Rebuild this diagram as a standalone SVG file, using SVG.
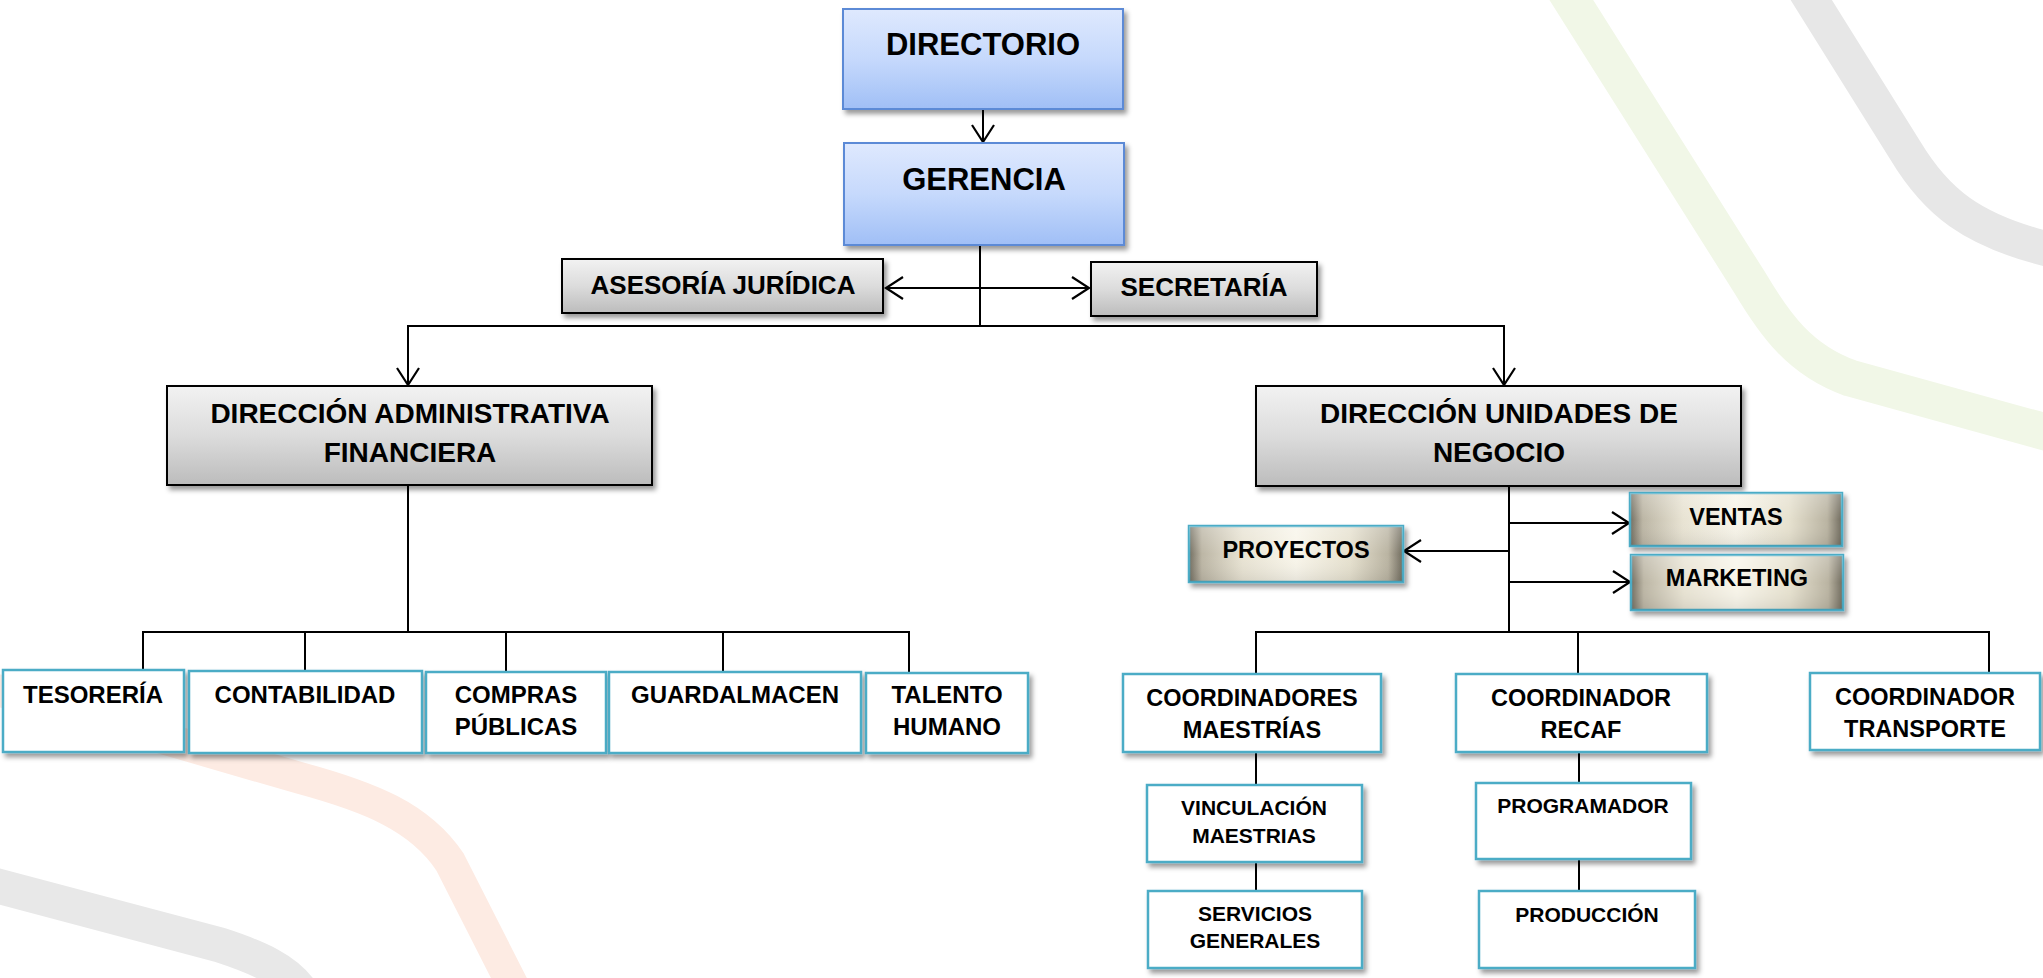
<svg xmlns="http://www.w3.org/2000/svg" width="2043" height="978" viewBox="0 0 2043 978">
<defs>
<linearGradient id="gBlue" x1="0" y1="0" x2="0" y2="1">
<stop offset="0" stop-color="#dfe9fe"/><stop offset="0.5" stop-color="#c6d9fc"/><stop offset="1" stop-color="#a0bff6"/>
</linearGradient>
<linearGradient id="gGray" x1="0" y1="0" x2="0" y2="1">
<stop offset="0" stop-color="#f2f2f2"/><stop offset="0.5" stop-color="#dcdcdc"/><stop offset="1" stop-color="#bcbcbc"/>
</linearGradient>
<linearGradient id="gMetal" x1="0" y1="0" x2="1" y2="0">
<stop offset="0" stop-color="#726d60"/><stop offset="0.06" stop-color="#bcb6a5"/><stop offset="0.25" stop-color="#e8e3d3"/><stop offset="0.5" stop-color="#f8f5ea"/><stop offset="0.75" stop-color="#e6e1cf"/><stop offset="0.93" stop-color="#bab4a2"/><stop offset="1" stop-color="#6f6a5d"/>
</linearGradient>
<linearGradient id="gMetalV" x1="0" y1="0" x2="0" y2="1">
<stop offset="0" stop-color="#ffffff" stop-opacity="0.25"/><stop offset="0.5" stop-color="#ffffff" stop-opacity="0"/><stop offset="1" stop-color="#000000" stop-opacity="0.08"/>
</linearGradient>
<filter id="sh" x="-10%" y="-20%" width="125%" height="150%">
<feDropShadow dx="3" dy="4" stdDeviation="2.5" flood-color="#000" flood-opacity="0.4"/>
</filter>
<marker id="arr" markerUnits="userSpaceOnUse" markerWidth="26" markerHeight="28" viewBox="-22 -14 26 28" refX="0" refY="0" orient="auto-start-reverse">
<path d="M-17,-11 L0,0 L-17,11" fill="none" stroke="#000" stroke-width="2.2"/>
</marker>
</defs>
<style>
.t{font-family:"Liberation Sans",Arial,sans-serif;font-weight:bold;fill:#000;text-anchor:middle}
.blue{fill:url(#gBlue);stroke:#5b8ad6;stroke-width:2;filter:url(#sh)}
.gray{fill:url(#gGray);stroke:#000;stroke-width:2;filter:url(#sh)}
.metal{fill:url(#gMetal);stroke:#4bacc6;stroke-width:2.5;filter:url(#sh)}
.white{fill:#fff;stroke:#4bacc6;stroke-width:2.5;filter:url(#sh)}
.c{fill:none;stroke:#000;stroke-width:2}
.band{fill:none;stroke-linecap:butt;stroke-linejoin:round}
</style>
<rect width="2043" height="978" fill="#fff"/>
<g id="background">
<path class="band" d="M1565,-10 L1750,283 C1775,325 1800,360 1850,378 L2060,436" stroke="#f1f7e7" stroke-width="37"/>
<path class="band" d="M1805,-10 L1905,150 C1935,200 1970,232 2060,252" stroke="#e7e7e7" stroke-width="35"/>
<path class="band" d="M-10,688 L300,778 C370,797 420,817 450,862 L515,990" stroke="#fdebe3" stroke-width="32"/>
<path class="band" d="M-10,884 L220,945 C260,958 285,970 300,990" stroke="#e8e8e8" stroke-width="35"/>
</g>
<g id="connectors">
<line class="c" x1="983" y1="83" x2="983" y2="142" marker-end="url(#arr)"/>
<line class="c" x1="980" y1="245" x2="980" y2="326"/>
<line class="c" x1="886" y1="288" x2="1089" y2="288" marker-start="url(#arr)" marker-end="url(#arr)"/>
<line class="c" x1="407" y1="326" x2="1505" y2="326"/>
<line class="c" x1="408" y1="326" x2="408" y2="385" marker-end="url(#arr)"/>
<line class="c" x1="1504" y1="326" x2="1504" y2="385" marker-end="url(#arr)"/>
<line class="c" x1="408" y1="485" x2="408" y2="632"/>
<line class="c" x1="142" y1="632" x2="910" y2="632"/>
<line class="c" x1="143" y1="632" x2="143" y2="670"/>
<line class="c" x1="305" y1="632" x2="305" y2="671"/>
<line class="c" x1="506" y1="632" x2="506" y2="672"/>
<line class="c" x1="723" y1="632" x2="723" y2="672"/>
<line class="c" x1="909" y1="632" x2="909" y2="673"/>
<line class="c" x1="1509" y1="486" x2="1509" y2="632"/>
<line class="c" x1="1509" y1="523" x2="1629" y2="523" marker-end="url(#arr)"/>
<line class="c" x1="1509" y1="551" x2="1404" y2="551" marker-end="url(#arr)"/>
<line class="c" x1="1509" y1="582" x2="1630" y2="582" marker-end="url(#arr)"/>
<line class="c" x1="1255" y1="632" x2="1990" y2="632"/>
<line class="c" x1="1256" y1="632" x2="1256" y2="674"/>
<line class="c" x1="1578" y1="632" x2="1578" y2="674"/>
<line class="c" x1="1989" y1="632" x2="1989" y2="673"/>
<line class="c" x1="1256" y1="752" x2="1256" y2="785"/>
<line class="c" x1="1256" y1="862" x2="1256" y2="891"/>
<line class="c" x1="1579" y1="752" x2="1579" y2="783"/>
<line class="c" x1="1579" y1="859" x2="1579" y2="891"/>
</g>
<g id="directorio"><rect class="blue" x="843" y="9" width="280" height="100"/><text class="t" x="983" y="55" font-size="31">DIRECTORIO</text></g>
<g id="gerencia"><rect class="blue" x="844" y="143" width="280" height="102"/><text class="t" x="984" y="190" font-size="31">GERENCIA</text></g>
<g id="asesoria"><rect class="gray" x="562" y="259" width="321" height="54"/><text class="t" x="723" y="294" font-size="26">ASESORÍA JURÍDICA</text></g>
<g id="secretaria"><rect class="gray" x="1091" y="262" width="226" height="54"/><text class="t" x="1204" y="296" font-size="26">SECRETARÍA</text></g>
<g id="daf"><rect class="gray" x="167" y="386" width="485" height="99"/><text class="t" x="410" y="423" font-size="28">DIRECCIÓN ADMINISTRATIVA</text><text class="t" x="410" y="462" font-size="28">FINANCIERA</text></g>
<g id="dun"><rect class="gray" x="1256" y="386" width="485" height="100"/><text class="t" x="1499" y="423" font-size="28">DIRECCIÓN UNIDADES DE</text><text class="t" x="1499" y="462" font-size="28">NEGOCIO</text></g>
<g id="proyectos"><rect class="metal" x="1189" y="526" width="214" height="56"/><rect x="1189" y="526" width="214" height="56" fill="url(#gMetalV)"/><text class="t" x="1296" y="558" font-size="23.5">PROYECTOS</text></g>
<g id="ventas"><rect class="metal" x="1630" y="493" width="212" height="53"/><rect x="1630" y="493" width="212" height="53" fill="url(#gMetalV)"/><text class="t" x="1736" y="525" font-size="23.5">VENTAS</text></g>
<g id="marketing"><rect class="metal" x="1631" y="555" width="212" height="55"/><rect x="1631" y="555" width="212" height="55" fill="url(#gMetalV)"/><text class="t" x="1737" y="586" font-size="23.5">MARKETING</text></g>
<g id="tesoreria"><rect class="white" x="3" y="670" width="181" height="82"/><text class="t" x="93" y="703" font-size="24">TESORERÍA</text></g>
<g id="contabilidad"><rect class="white" x="189" y="671" width="233" height="82"/><text class="t" x="305" y="703" font-size="24">CONTABILIDAD</text></g>
<g id="compras"><rect class="white" x="426" y="672" width="180" height="81"/><text class="t" x="516" y="703" font-size="24">COMPRAS</text><text class="t" x="516" y="735" font-size="24">PÚBLICAS</text></g>
<g id="guardalmacen"><rect class="white" x="609" y="672" width="252" height="81"/><text class="t" x="735" y="703" font-size="24">GUARDALMACEN</text></g>
<g id="talento"><rect class="white" x="866" y="673" width="162" height="80"/><text class="t" x="947" y="703" font-size="24">TALENTO</text><text class="t" x="947" y="735" font-size="24">HUMANO</text></g>
<g id="coord-maestrias"><rect class="white" x="1123" y="674" width="258" height="78"/><text class="t" x="1252" y="706" font-size="23.5">COORDINADORES</text><text class="t" x="1252" y="738" font-size="23.5">MAESTRÍAS</text></g>
<g id="coord-recaf"><rect class="white" x="1456" y="674" width="251" height="78"/><text class="t" x="1581" y="706" font-size="23.5">COORDINADOR</text><text class="t" x="1581" y="738" font-size="23.5">RECAF</text></g>
<g id="coord-transporte"><rect class="white" x="1810" y="673" width="230" height="77"/><text class="t" x="1925" y="705" font-size="23.5">COORDINADOR</text><text class="t" x="1925" y="737" font-size="23.5">TRANSPORTE</text></g>
<g id="vinculacion"><rect class="white" x="1147" y="785" width="215" height="77"/><text class="t" x="1254" y="815" font-size="21">VINCULACIÓN</text><text class="t" x="1254" y="843" font-size="21">MAESTRIAS</text></g>
<g id="servicios"><rect class="white" x="1148" y="891" width="214" height="77"/><text class="t" x="1255" y="921" font-size="21">SERVICIOS</text><text class="t" x="1255" y="948" font-size="21">GENERALES</text></g>
<g id="programador"><rect class="white" x="1476" y="783" width="215" height="76"/><text class="t" x="1583" y="813" font-size="21">PROGRAMADOR</text></g>
<g id="produccion"><rect class="white" x="1479" y="891" width="216" height="77"/><text class="t" x="1587" y="922" font-size="21">PRODUCCIÓN</text></g>
</svg>
